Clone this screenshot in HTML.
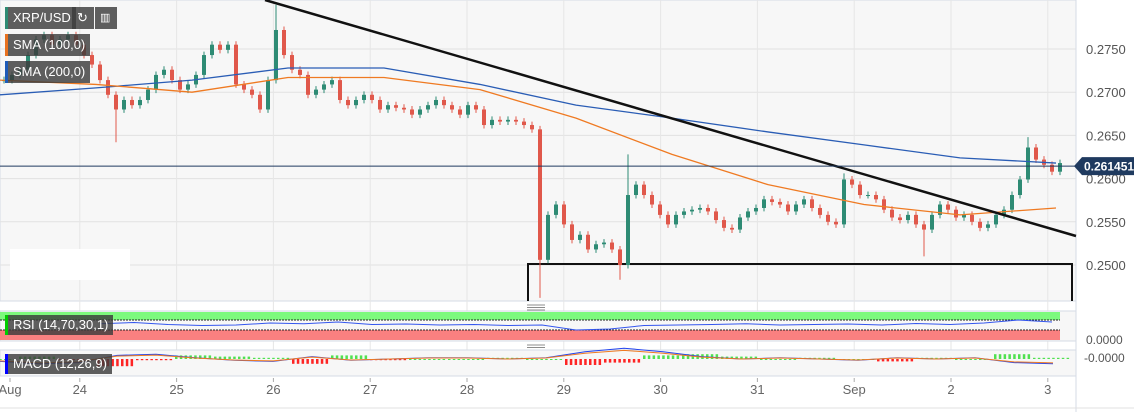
<!DOCTYPE html>
<html><head><meta charset="utf-8"><style>
body{margin:0;background:#fff;font-family:"Liberation Sans",sans-serif;}
svg{display:block}
.lbl{position:absolute;background:rgba(60,60,60,0.82);color:#fff;font-size:13px;padding:0 5px;height:22px;line-height:22px;white-space:nowrap;}
</style></head><body>
<div style="position:relative;width:1134px;height:412px">
<svg id="c" width="1134" height="412"></svg>
<div class="lbl" style="left:5px;top:7px;border-left:3px solid #2e8b74">XRP/USD</div>
<div class="lbl" style="left:72px;top:7px;width:12px">↻</div>
<div class="lbl" style="left:95px;top:7px;width:12px;font-size:11px">▥</div>
<div class="lbl" style="left:5px;top:34px;border-left:3px solid #e8711f">SMA (100,0)</div>
<div class="lbl" style="left:5px;top:61px;border-left:3px solid #1e5bb8">SMA (200,0)</div>
<div class="lbl" style="left:5px;top:315px;border-left:3px solid #0c0;height:20px;line-height:20px">RSI (14,70,30,1)</div>
<div class="lbl" style="left:5px;top:354px;border-left:3px solid #00f;height:20px;line-height:20px">MACD (12,26,9)</div>
</div>
<script>
const closes=[0.2714,0.2720,0.2726,0.2743,0.2761,0.2766,0.2755,0.2761,0.2766,0.2755,0.2743,0.2732,0.2714,0.2697,0.2680,0.2691,0.2685,0.2691,0.2703,0.2720,0.2726,0.2714,0.2703,0.2709,0.2720,0.2743,0.2755,0.2749,0.2755,0.2709,0.2703,0.2697,0.2680,0.2714,0.2772,0.2743,0.2726,0.2720,0.2697,0.2703,0.2709,0.2714,0.2691,0.2685,0.2691,0.2697,0.2691,0.2680,0.2685,0.2682,0.2680,0.2674,0.2680,0.2685,0.2691,0.2685,0.2680,0.2674,0.2685,0.2680,0.2662,0.2668,0.2666,0.2668,0.2666,0.2662,0.2657,0.2506,0.2558,0.2570,0.2547,0.2529,0.2535,0.2518,0.2524,0.2526,0.2518,0.2500,0.2581,0.2593,0.2581,0.2570,0.2558,0.2547,0.2558,0.2562,0.2564,0.2566,0.2562,0.2552,0.2543,0.2541,0.2555,0.2562,0.2566,0.2576,0.2573,0.2570,0.2562,0.2570,0.2576,0.2566,0.2558,0.2550,0.2547,0.2599,0.2593,0.2581,0.2581,0.2576,0.2564,0.2555,0.2552,0.2558,0.2547,0.2541,0.2558,0.2570,0.2564,0.2555,0.2558,0.2550,0.2543,0.2547,0.2558,0.2564,0.2581,0.2599,0.2636,0.2622,0.2616,0.2608,0.2618];
const highSpikes={34:0.2801,128:0.2648,78:0.2628,105:0.2606};
const lowSpikes={67:0.2462,77:0.2483,14:0.2642,115:0.2510};
const sma200=[0.2697,0.2705,0.2714,0.2728,0.2728,0.2709,0.2685,0.2670,0.2654,0.2639,0.2624,0.2618];
const sma100=[0.2714,0.2709,0.2700,0.2717,0.2717,0.2703,0.2670,0.2628,0.2593,0.2570,0.2558,0.2566];
const priceTicks=["0.2750","0.2700","0.2650","0.2600","0.2550","0.2500"];
const dayLabels=["Aug","24","25","26","27","28","29","30","31","Sep","2","3"];
const rsi=[55,60,52,48,50,58,55,62,52,54,50,52,48,50,30,34,48,50,52,55,50,52,54,50,56,52,58,70,62];
const macd=[2,4,3,-3,-4,-1,1,2,-2,1,0,-1,-1,0,-1,-6,-9,-6,-2,0,-1,0,1,-1,0,-1,3,4];
const latest=0.261451;

const NS="http://www.w3.org/2000/svg",svg=document.getElementById('c');
function el(t,a,p){const e=document.createElementNS(NS,t);for(const k in a)e.setAttribute(k,a[k]);(p||svg).appendChild(e);return e;}
const py=p=>265-(p-0.25)/0.005*43.2;
const cx=i=>4+8*i;
const dx=d=>-17+96.8*d;
let e;
e=el('rect',{x:0,y:0,width:1076,height:301,fill:'#f7f7f7',stroke:'#d6dbe6'});

priceTicks.forEach(t=>{const y=py(+t);
 e=el('line',{x1:0,x2:1076,y1:y,y2:y,stroke:'#e2e2e2'});
 e=el('text',{x:1086,y:y+5,'font-size':13,fill:'#555'});e.textContent=t;});
for(let d=1;d<dayLabels.length;d++){const x=dx(d);
 e=el('line',{x1:x,x2:x,y1:0,y2:376,stroke:'#e6e6e6'});}
dayLabels.forEach((t,d)=>{const x=d==0?10:dx(d);
 e=el('text',{x:x,y:394,'font-size':13,fill:'#666','text-anchor':'middle'});e.textContent=t;
 e=el('line',{x1:x,x2:x,y1:378,y2:382,stroke:'#aaa'});});
e=el('line',{x1:1076,x2:1076,y1:0,y2:412,stroke:'#d6dbe6'});
e=el('line',{x1:0,x2:1134,y1:408,y2:408,stroke:'#e0e0e0'});
e=el('rect',{x:10,y:249,width:120,height:31,fill:'#fff'});
e=el('path',{d:'M528,301V264H1072V301',fill:'none',stroke:'#111','stroke-width':2});
function lineFrom(arr,step,col,name){let d='';arr.forEach((v,k)=>{d+=(k?'L':'M')+(cx(0)+k*step*8-4)+','+py(v);});
 e=el('path',{d:d,fill:'none',stroke:col,'stroke-width':1.3,'stroke-linejoin':'round'});}
closes.forEach((c,i)=>{const o=i?closes[i-1]:c;const up=c>=o;const col=up?'#2e8b74':'#e0584b';
 const hi=highSpikes[i]||Math.max(o,c)+0.0004, lo=lowSpikes[i]||Math.min(o,c)-0.0004;const x=cx(i);
 e=el('line',{x1:x,x2:x,y1:py(hi),y2:py(lo),stroke:col});
 const y1=py(Math.max(o,c)),h=Math.max(1,py(Math.min(o,c))-y1);
 e=el('rect',{x:x-2,y:y1,width:4,height:h,fill:col});});
lineFrom(sma200,12,'#2a5db5','sma200-line');
lineFrom(sma100,12,'#ef7a22','sma100-line');
e=el('line',{x1:265,y1:0,x2:1076,y2:236,stroke:'#111','stroke-width':2.5});
const ly=py(latest);
e=el('line',{x1:0,x2:1076,y1:ly,y2:ly,stroke:'#1f3a5f'});
e=el('path',{d:`M1074,${ly}L1082,${ly-9}H1134V${ly+9}H1082Z`,fill:'#1f3a5f'});
e=el('text',{x:1084,y:ly+4.5,'font-size':12,fill:'#fff','font-weight':'bold'});e.textContent=latest.toFixed(6);
[305,345].forEach(y=>{for(let k=0;k<3;k++){e=el('line',{x1:527,x2:545,y1:y+k*2.5,y2:y+k*2.5,stroke:'#666','stroke-width':0.7});}});
e=el('rect',{x:0,y:311,width:1076,height:30,fill:'#f7f7f7',stroke:'#d6dbe6'});
e=el('rect',{x:0,y:312,width:1060,height:8,fill:'#7dfa7d'});
e=el('rect',{x:0,y:330,width:1060,height:10,fill:'#fa8080'});
[320,330].forEach(y=>{e=el('line',{x1:0,x2:1060,y1:y,y2:y,stroke:'#222','stroke-dasharray':'2,1'});});
const ry=v=>337.5-v*0.25;let d='';rsi.forEach((v,k)=>{d+=(k?'L':'M')+(100+k*34)+','+ry(v);});
e=el('path',{d:d,fill:'none',stroke:'#3355ee','stroke-width':1});
e=el('text',{x:1086,y:344,'font-size':12,fill:'#555'});e.textContent='0.0000';
e=el('rect',{x:0,y:350,width:1076,height:26,fill:'#f7f7f7',stroke:'#d6dbe6'});
const my=v=>359+v*1.2;d='';let d2='';
macd.forEach((v,k)=>{const x=k*39;d+=(k?'L':'M')+x+','+my(v);d2+=(k?'L':'M')+x+','+my(v*0.8);
 const hv=v-(macd[k-1]||v);
 for(let j=0;j<8;j++){const hh=hv*1.2;e=el('rect',{x:x-20+j*4.8,y:Math.min(359,359-hh),width:2.5,height:Math.max(1,Math.abs(hh)),fill:hv>=0?'#3d3':'#f00',opacity:0.85});}});
e=el('path',{d:d,fill:'none',stroke:'#2244ee'});
e=el('path',{d:d2,fill:'none',stroke:'#ef7a22'});
e=el('text',{x:1084,y:362,'font-size':12,fill:'#555'});e.textContent='-0.0000';
</script>
</body></html>
